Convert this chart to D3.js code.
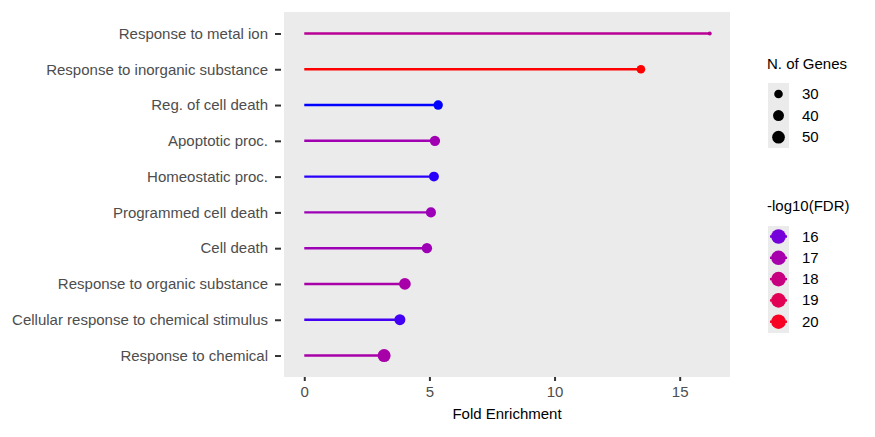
<!DOCTYPE html>
<html>
<head>
<meta charset="utf-8">
<script src="https://cdn.jsdelivr.net/npm/d3@7"></script>
<style>
  body { margin: 0; background: #fff; }
  text { font-family: "Liberation Sans", Arial, sans-serif; }
</style>
</head>
<body>
<div id="chart"></div>
<script>
// Data (top to bottom)
const terms = [
  "Response to metal ion",
  "Response to inorganic substance",
  "Reg. of cell death",
  "Apoptotic proc.",
  "Homeostatic proc.",
  "Programmed cell death",
  "Cell death",
  "Response to organic substance",
  "Cellular response to chemical stimulus",
  "Response to chemical"
];
const foldEnrichment = [16.2, 13.45, 5.35, 5.22, 5.18, 5.06, 4.9, 4.02, 3.82, 3.19];
const nGenes = [22, 30, 33, 37, 35, 36, 37, 44, 40, 52];
const logFDR = [17.5, 20.4, 15.2, 16.85, 15.3, 16.75, 16.8, 17.05, 15.45, 17.05];

const xTicks = [0, 5, 10, 15];
const sizeBreaks = [30, 40, 50];
const colorBreaks = [16, 17, 18, 19, 20];

const width = 875, height = 437;
const panel = { left: 284, right: 730, top: 12, bottom: 377 };
const fontSize = "15px";

const svg = d3.select("#chart").append("svg")
  .attr("width", width)
  .attr("height", height);

// Scales
const xMax = d3.max(foldEnrichment);
const xPad = xMax * 0.05;
const x = d3.scaleLinear()
  .domain([-xPad, xMax + xPad])
  .range([panel.left, panel.right]);

const y = d3.scalePoint()
  .domain(terms)
  .range([panel.top, panel.bottom])
  .padding(0.6);

const gMin = d3.min(nGenes), gMax = d3.max(nGenes);
const radius = n => 2 + 4.5 * Math.sqrt((n - gMin) / (gMax - gMin));

const color = d3.scaleLinear()
  .domain(d3.extent(logFDR))
  .range(["blue", "red"])
  .interpolate(d3.interpolateLab);

// Panel background
svg.append("rect")
  .attr("x", panel.left)
  .attr("y", panel.top)
  .attr("width", panel.right - panel.left)
  .attr("height", panel.bottom - panel.top)
  .attr("fill", "#ebebeb");

// Axes
const xAxis = svg.append("g")
  .attr("transform", `translate(0, ${panel.bottom})`)
  .call(d3.axisBottom(x).tickValues(xTicks).tickSize(4).tickPadding(5));
const yAxis = svg.append("g")
  .attr("transform", `translate(${panel.left}, 0)`)
  .call(d3.axisLeft(y).tickSize(4).tickPadding(6));

[xAxis, yAxis].forEach(g => {
  g.select(".domain").remove();
  g.selectAll(".tick line").attr("stroke", "#333").attr("stroke-width", 2);
  g.selectAll(".tick text")
    .attr("fill", "#4d4d4d")
    .style("font-size", fontSize);
});
yAxis.selectAll(".tick line").attr("x1", -3).attr("x2", -9);
yAxis.selectAll(".tick text").attr("x", -16);

// Lollipops
const rows = terms.map((t, i) => ({
  term: t, fe: foldEnrichment[i], genes: nGenes[i], fdr: logFDR[i]
}));

svg.selectAll("line.stem")
  .data(rows)
  .enter()
  .append("line")
  .attr("class", "stem")
  .attr("x1", x(0))
  .attr("x2", d => x(d.fe))
  .attr("y1", d => y(d.term))
  .attr("y2", d => y(d.term))
  .attr("stroke", d => color(d.fdr))
  .attr("stroke-width", 2.4);

svg.selectAll("circle.dot")
  .data(rows)
  .enter()
  .append("circle")
  .attr("class", "dot")
  .attr("cx", d => x(d.fe))
  .attr("cy", d => y(d.term))
  .attr("r", d => radius(d.genes))
  .attr("fill", d => color(d.fdr));

// X axis title
svg.append("text")
  .attr("x", (panel.left + panel.right) / 2)
  .attr("y", 419)
  .attr("text-anchor", "middle")
  .style("font-size", fontSize)
  .attr("fill", "#000")
  .text("Fold Enrichment");

// Legend: N. of Genes
const lg1 = svg.append("g").attr("transform", "translate(767, 0)");
lg1.append("text")
  .attr("x", 0).attr("y", 69)
  .style("font-size", fontSize)
  .text("N. of Genes");
lg1.append("rect")
  .attr("x", 1).attr("y", 83)
  .attr("width", 21).attr("height", 65)
  .attr("fill", "#ebebeb");
sizeBreaks.forEach((b, i) => {
  const cy = 94 + i * 21.6;
  lg1.append("circle")
    .attr("cx", 11.5).attr("cy", cy)
    .attr("r", radius(b))
    .attr("fill", "#000");
  lg1.append("text")
    .attr("x", 35).attr("y", cy + 5)
    .style("font-size", fontSize)
    .text(b);
});

// Legend: -log10(FDR)
const lg2 = svg.append("g").attr("transform", "translate(767, 0)");
lg2.append("text")
  .attr("x", 0).attr("y", 211)
  .style("font-size", fontSize)
  .text("-log10(FDR)");
lg2.append("rect")
  .attr("x", 1).attr("y", 226)
  .attr("width", 21).attr("height", 107)
  .attr("fill", "#ebebeb");
colorBreaks.forEach((b, i) => {
  const cy = 236.5 + i * 21.3;
  lg2.append("line")
    .attr("x1", 3).attr("x2", 20)
    .attr("y1", cy).attr("y2", cy)
    .attr("stroke", color(b))
    .attr("stroke-width", 2.4);
  lg2.append("circle")
    .attr("cx", 11.5).attr("cy", cy)
    .attr("r", 7.3)
    .attr("fill", color(b));
  lg2.append("text")
    .attr("x", 35).attr("y", cy + 5)
    .style("font-size", fontSize)
    .text(b);
});
</script>
</body>
</html>
